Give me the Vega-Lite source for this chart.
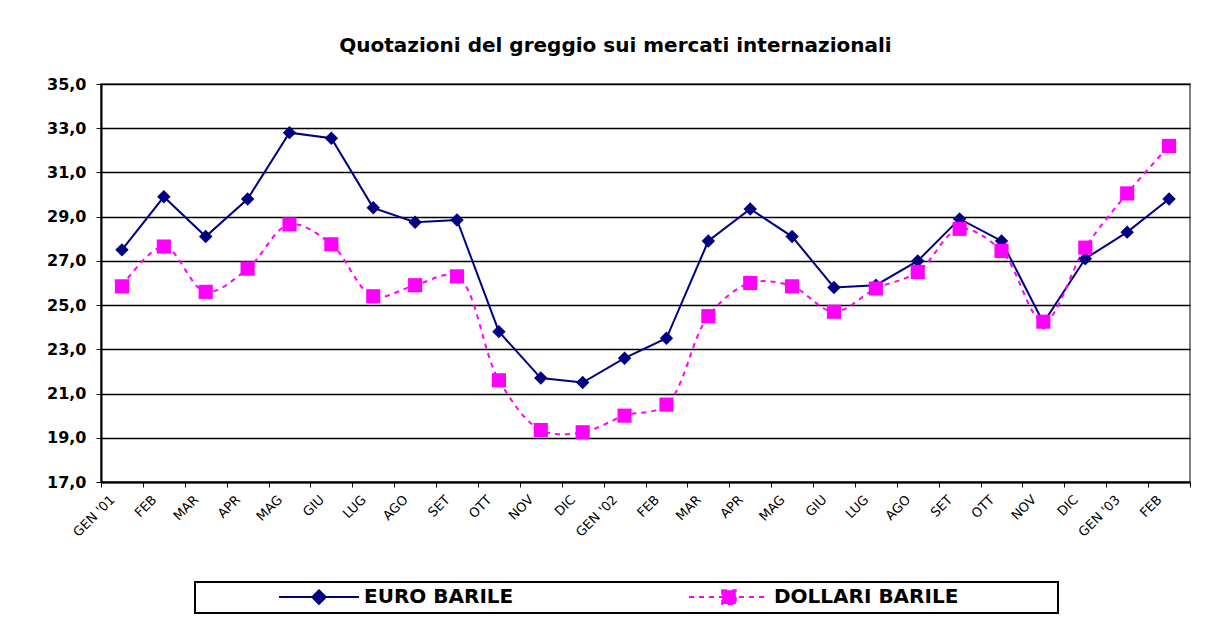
{
  "$schema": "https://vega.github.io/schema/vega-lite/v6.json",
  "autosize": {"type": "none"},
  "width": 1089,
  "height": 398,
  "padding": {"left": 101, "top": 84, "right": 22, "bottom": 155},
  "background": "white",
  "title": {
    "text": "Quotazioni del greggio sui mercati internazionali",
    "font": "DejaVu Sans",
    "fontSize": 20,
    "fontWeight": "bold",
    "color": "black",
    "anchor": "middle",
    "dx": -30,
    "offset": 20
  },
  "data": {
    "values": [
      {"mese": "GEN '01", "serie": "EURO BARILE", "valore": 27.5},
      {"mese": "FEB '01", "serie": "EURO BARILE", "valore": 29.9},
      {"mese": "MAR '01", "serie": "EURO BARILE", "valore": 28.1},
      {"mese": "APR '01", "serie": "EURO BARILE", "valore": 29.8},
      {"mese": "MAG '01", "serie": "EURO BARILE", "valore": 32.8},
      {"mese": "GIU '01", "serie": "EURO BARILE", "valore": 32.55},
      {"mese": "LUG '01", "serie": "EURO BARILE", "valore": 29.4},
      {"mese": "AGO '01", "serie": "EURO BARILE", "valore": 28.75},
      {"mese": "SET '01", "serie": "EURO BARILE", "valore": 28.85},
      {"mese": "OTT '01", "serie": "EURO BARILE", "valore": 23.8},
      {"mese": "NOV '01", "serie": "EURO BARILE", "valore": 21.7},
      {"mese": "DIC '01", "serie": "EURO BARILE", "valore": 21.5},
      {"mese": "GEN '02", "serie": "EURO BARILE", "valore": 22.6},
      {"mese": "FEB '02", "serie": "EURO BARILE", "valore": 23.5},
      {"mese": "MAR '02", "serie": "EURO BARILE", "valore": 27.9},
      {"mese": "APR '02", "serie": "EURO BARILE", "valore": 29.35},
      {"mese": "MAG '02", "serie": "EURO BARILE", "valore": 28.1},
      {"mese": "GIU '02", "serie": "EURO BARILE", "valore": 25.8},
      {"mese": "LUG '02", "serie": "EURO BARILE", "valore": 25.9},
      {"mese": "AGO '02", "serie": "EURO BARILE", "valore": 27.0},
      {"mese": "SET '02", "serie": "EURO BARILE", "valore": 28.9},
      {"mese": "OTT '02", "serie": "EURO BARILE", "valore": 27.9},
      {"mese": "NOV '02", "serie": "EURO BARILE", "valore": 24.2},
      {"mese": "DIC '02", "serie": "EURO BARILE", "valore": 27.1},
      {"mese": "GEN '03", "serie": "EURO BARILE", "valore": 28.3},
      {"mese": "FEB '03", "serie": "EURO BARILE", "valore": 29.8},
      {"mese": "GEN '01", "serie": "DOLLARI BARILE", "valore": 25.85},
      {"mese": "FEB '01", "serie": "DOLLARI BARILE", "valore": 27.65},
      {"mese": "MAR '01", "serie": "DOLLARI BARILE", "valore": 25.6},
      {"mese": "APR '01", "serie": "DOLLARI BARILE", "valore": 26.65},
      {"mese": "MAG '01", "serie": "DOLLARI BARILE", "valore": 28.65},
      {"mese": "GIU '01", "serie": "DOLLARI BARILE", "valore": 27.75},
      {"mese": "LUG '01", "serie": "DOLLARI BARILE", "valore": 25.4},
      {"mese": "AGO '01", "serie": "DOLLARI BARILE", "valore": 25.9},
      {"mese": "SET '01", "serie": "DOLLARI BARILE", "valore": 26.3},
      {"mese": "OTT '01", "serie": "DOLLARI BARILE", "valore": 21.6},
      {"mese": "NOV '01", "serie": "DOLLARI BARILE", "valore": 19.35},
      {"mese": "DIC '01", "serie": "DOLLARI BARILE", "valore": 19.25},
      {"mese": "GEN '02", "serie": "DOLLARI BARILE", "valore": 20.0},
      {"mese": "FEB '02", "serie": "DOLLARI BARILE", "valore": 20.5},
      {"mese": "MAR '02", "serie": "DOLLARI BARILE", "valore": 24.5},
      {"mese": "APR '02", "serie": "DOLLARI BARILE", "valore": 26.0},
      {"mese": "MAG '02", "serie": "DOLLARI BARILE", "valore": 25.85},
      {"mese": "GIU '02", "serie": "DOLLARI BARILE", "valore": 24.7},
      {"mese": "LUG '02", "serie": "DOLLARI BARILE", "valore": 25.75},
      {"mese": "AGO '02", "serie": "DOLLARI BARILE", "valore": 26.5},
      {"mese": "SET '02", "serie": "DOLLARI BARILE", "valore": 28.45},
      {"mese": "OTT '02", "serie": "DOLLARI BARILE", "valore": 27.45},
      {"mese": "NOV '02", "serie": "DOLLARI BARILE", "valore": 24.25},
      {"mese": "DIC '02", "serie": "DOLLARI BARILE", "valore": 27.6},
      {"mese": "GEN '03", "serie": "DOLLARI BARILE", "valore": 30.05},
      {"mese": "FEB '03", "serie": "DOLLARI BARILE", "valore": 32.2}
    ]
  },
  "encoding": {
    "x": {
      "field": "mese",
      "type": "nominal",
      "sort": null,
      "title": null,
      "scale": {"paddingInner": 0, "paddingOuter": 0},
      "axis": {
        "labelAngle": -45,
        "labelFont": "DejaVu Sans",
        "labelFontSize": 13,
        "labelColor": "black",
        "labelExpr": "indexof(datum.label, 'GEN') == 0 ? datum.label : slice(datum.label, 0, 3)",
        "tickBand": "extent",
        "tickColor": "black",
        "tickSize": 5,
        "domainColor": "black",
        "domainWidth": 2,
        "labelPadding": 6,
        "labelOffset": -14,
        "grid": false
      }
    },
    "y": {
      "field": "valore",
      "type": "quantitative",
      "title": null,
      "scale": {"domain": [17, 35], "nice": false, "zero": false},
      "axis": {
        "values": [17, 19, 21, 23, 25, 27, 29, 31, 33, 35],
        "labelExpr": "replace(format(datum.value, '.1f'), '.', ',')",
        "labelFont": "DejaVu Sans",
        "labelFontSize": 16,
        "labelFontWeight": "bold",
        "labelColor": "black",
        "tickColor": "black",
        "tickSize": 5,
        "labelPadding": 10,
        "domainColor": "black",
        "domainWidth": 2,
        "grid": true,
        "gridColor": "black",
        "gridWidth": 1.5,
        "gridOpacity": 1
      }
    },
    "color": {
      "field": "serie",
      "type": "nominal",
      "sort": ["EURO BARILE", "DOLLARI BARILE"],
      "scale": {"domain": ["EURO BARILE", "DOLLARI BARILE"], "range": ["#000080", "#FF00FF"]},
      "legend": {
        "title": null,
        "orient": "none",
        "legendX": 94,
        "legendY": 498,
        "direction": "horizontal",
        "strokeColor": "black",
        "padding": 5,
        "symbolOffset": 109,
        "columnPadding": 96,
        "symbolSize": 256,
        "symbolStrokeWidth": 2,
        "labelFont": "DejaVu Sans",
        "labelFontSize": 20,
        "labelFontWeight": "bold",
        "labelColor": "black",
        "labelOffset": 35,
        "labelLimit": 600,
        "labelExpr": "datum.label == 'DOLLARI BARILE' ? datum.label + '\u2800\u2800\u2800\u2800\u2800\u2800' : datum.label",
        "encode": {
          "legend": {"update": {"strokeWidth": {"value": 2}}},
          "symbols": {
            "update": {
              "shape": {"signal": "datum.value == 'EURO BARILE' ? 'M-5,0H5M-0.85,0L0,-0.85L0.85,0L0,0.85Z' : 'M-5,0H5M-0.85,-0.85H0.85V0.85H-0.85Z'"},
              "size": {"value": 256},
              "fill": {"scale": "color", "field": "value"},
              "stroke": {"scale": "color", "field": "value"},
              "strokeWidth": {"value": 2},
              "strokeDash": {"signal": "datum.value == 'EURO BARILE' ? [1,0] : [5,5]"},
              "opacity": {"value": 1},
              "fillOpacity": {"value": 1},
              "strokeOpacity": {"value": 1}
            }
          }
        }
      }
    }
  },
  "layer": [
    {
      "transform": [{"filter": "datum.serie == 'EURO BARILE'"}],
      "mark": {"type": "line", "strokeWidth": 2}
    },
    {
      "transform": [{"filter": "datum.serie == 'DOLLARI BARILE'"}],
      "mark": {"type": "line", "strokeWidth": 2, "strokeDash": [5, 5], "interpolate": "catmull-rom"}
    },
    {
      "transform": [{"filter": "datum.serie == 'EURO BARILE'"}],
      "mark": {"type": "point", "shape": "diamond", "size": 180, "filled": true, "opacity": 1}
    },
    {
      "transform": [{"filter": "datum.serie == 'DOLLARI BARILE'"}],
      "mark": {"type": "point", "shape": "square", "size": 200, "filled": true, "opacity": 1}
    }
  ],
  "config": {
    "view": {"stroke": "#808080", "strokeWidth": 2}
  }
}
